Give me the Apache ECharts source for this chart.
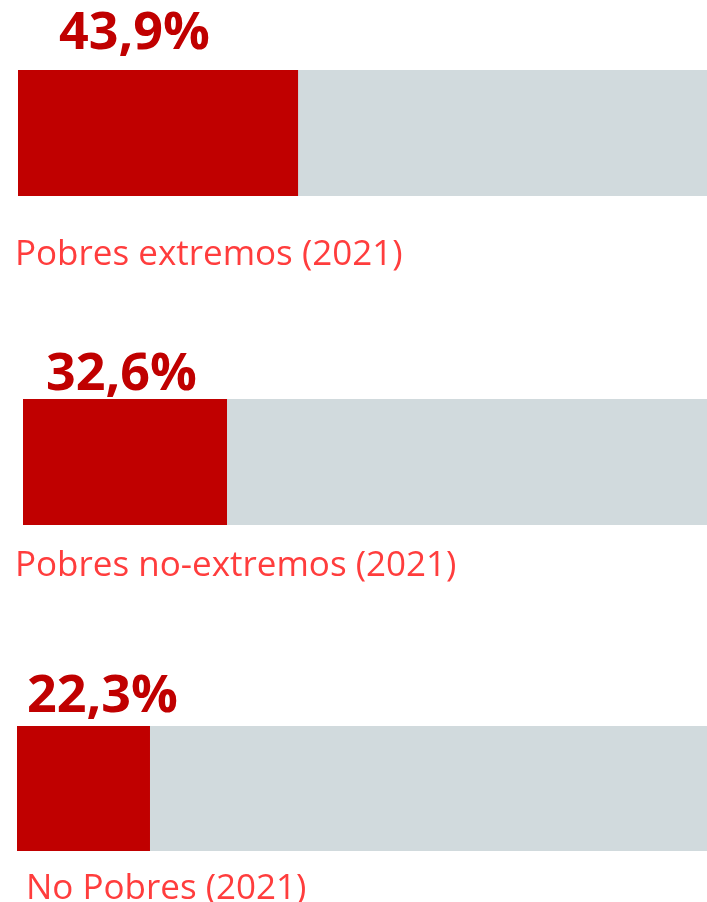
<!DOCTYPE html>
<html lang="es">
  <head>
    <meta charset="UTF-8" />
    <title>Pobreza 2021</title>
    <script src="https://cdn.jsdelivr.net/npm/echarts@6/dist/echarts.min.js"></script>
    <style>
      html, body { margin: 0; padding: 0; background: #fff; }
    </style>
  </head>
  <body>
    <div id="main" style="width: 707px; height: 902px"></div>
    <script type="text/javascript">
      const categories = ["Pobres extremos (2021)", "Pobres no-extremos (2021)", "No Pobres (2021)"];
      const values = [43.9, 32.6, 22.3];
      // the original panels are not drawn to one common scale
      const scaleMax = [108.0, 109.3, 115.7];

      // layout of each panel
      const grids = [
        { left: 18, top: 70, height: 126 },
        { left: 23, top: 399, height: 126 },
        { left: 17, top: 726, height: 125 },
      ];
      const valuePos = [[41, -62], [23, -50], [10, -55]];
      const namePos = [[-3, 168], [-8, 150], [9, 146]];

      const font = "'Open Sans', 'Noto Sans', sans-serif";

      let options = {
        animation: false,
        grid: [],
        xAxis: [],
        yAxis: [],
        series: [],
      };

      categories.forEach((name, i) => {
        const g = grids[i];
        options.grid.push({ left: g.left, right: 0, top: g.top, height: g.height });
        options.xAxis.push({
          type: "value",
          gridIndex: i,
          min: 0,
          max: scaleMax[i],
          show: false,
        });
        options.yAxis.push({
          type: "category",
          gridIndex: i,
          data: [name],
          show: false,
        });
        // grey track, carries the category name underneath
        options.series.push({
          type: "bar",
          xAxisIndex: i,
          yAxisIndex: i,
          barWidth: g.height,
          barGap: "-100%",
          silent: true,
          z: 1,
          itemStyle: { color: "#d1dadd" },
          label: {
            show: true,
            position: namePos[i],
            formatter: name,
            color: "#ff3d3d",
            fontFamily: font,
            fontSize: 35,
          },
          data: [scaleMax[i]],
        });
        // red value bar
        options.series.push({
          type: "bar",
          xAxisIndex: i,
          yAxisIndex: i,
          barWidth: g.height,
          barGap: "-100%",
          z: 2,
          itemStyle: { color: "#c00000" },
          label: {
            show: true,
            position: valuePos[i],
            formatter: (p) => p.value.toFixed(1).replace(".", ",") + "%",
            color: "#c00000",
            fontFamily: font,
            fontWeight: "bold",
            fontSize: 52,
          },
          data: [values[i]],
        });
      });

      let myChart = echarts.init(document.getElementById("main"));
      myChart.setOption(options);
    </script>
  </body>
</html>
